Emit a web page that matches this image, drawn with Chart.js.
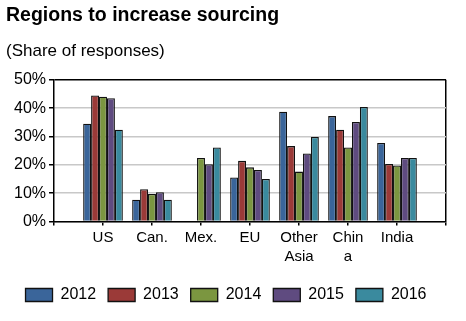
<!DOCTYPE html>
<html>
<head>
<meta charset="utf-8">
<script src="https://cdn.jsdelivr.net/npm/chart.js@4"></script>
<style>
  body { margin: 0; background: #fff; }
  canvas { display: block; }
</style>
</head>
<body>
<canvas id="chart" width="466" height="321"></canvas>
<script>
const categories = ['US', 'Can.', 'Mex.', 'EU', ['Other', 'Asia'], ['Chin', 'a'], 'India'];
const years = ['2012', '2013', '2014', '2015', '2016'];
const v2012 = [34.5, 7.7, null, 15.5, 38.7, 37.2, 27.7];
const v2013 = [44.5, 11.4, null, 21.4, 26.6, 32.4, 20.3];
const v2014 = [44.0, 9.7, 22.4, 19.1, 17.6, 26.1, 19.8];
const v2015 = [43.5, 10.3, 20.2, 18.2, 24.0, 35.1, 22.4];
const v2016 = [32.4, 7.7, 26.1, 15.0, 29.8, 40.4, 22.4];
const colors = ['#3a659a', '#9b3a38', '#7b9640', '#5f4b80', '#3a8a9e'];

// empty slot on each side so the bars sit between the axis ticks
const labels = [''].concat(categories, ['']);
const series = [v2012, v2013, v2014, v2015, v2016];

const datasets = series.map((vals, i) => ({
  label: years[i],
  data: [null].concat(vals, [null]),
  backgroundColor: colors[i],
  borderColor: '#111',
  borderWidth: 1.3,
  borderSkipped: 'bottom',
  categoryPercentage: 0.81,
  barPercentage: 1.0,
}));

Chart.defaults.font.family = '"Liberation Sans", Arial, sans-serif';
Chart.defaults.color = '#000';

new Chart(document.getElementById('chart'), {
  type: 'bar',
  data: { labels: labels, datasets: datasets },
  options: {
    responsive: false,
    animation: false,
    layout: { padding: { left: 6, right: 20, top: 2, bottom: 8 } },
    plugins: {
      title: {
        display: true,
        text: 'Regions to increase sourcing',
        align: 'start',
        font: { size: 19.5, weight: 'bold' },
        padding: { top: 2, bottom: 12 },
      },
      subtitle: {
        display: true,
        text: '(Share of responses)',
        align: 'start',
        font: { size: 17 },
        padding: { top: 2, bottom: 18 },
      },
      legend: {
        position: 'bottom',
        labels: {
          boxWidth: 27,
          boxHeight: 13,
          padding: 12,
          font: { size: 16 },
        },
      },
      tooltip: { enabled: false },
    },
    scales: {
      x: {
        offset: false,
        afterFit: scale => { scale.height += 6; },
        border: { display: true, color: '#000', width: 1.5 },
        grid: {
          offset: false,
          color: ctx => (ctx.index === labels.length - 1 ? '#000' : 'rgba(0,0,0,0)'),
          lineWidth: 1.5,
          tickColor: '#000',
          tickLength: 4,
        },
        ticks: {
          autoSkip: false,
          maxRotation: 0,
          padding: 3,
          font: { size: 15, lineHeight: 1.25 },
        },
      },
      y: {
        min: 0,
        max: 50,
        afterFit: scale => { scale.width = 48; },
        border: { display: true, color: '#000', width: 1.5 },
        grid: {
          color: ctx => (ctx.tick && ctx.tick.value === 50 ? '#000' : '#c8c8c8'),
          lineWidth: 1.5,
          tickColor: '#000',
          tickLength: 5,
        },
        ticks: {
          stepSize: 10,
          padding: 3,
          font: { size: 16 },
          callback: v => v + '%',
        },
      },
    },
  },
});
</script>
</body>
</html>
